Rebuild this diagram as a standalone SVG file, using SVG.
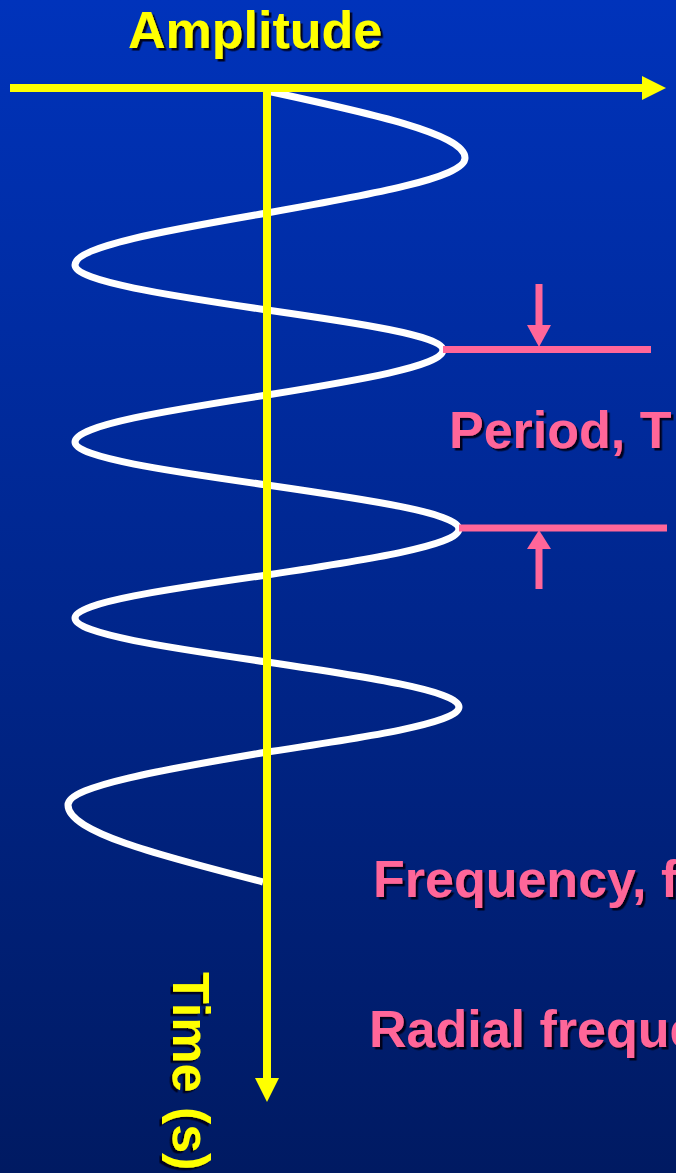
<svg xmlns="http://www.w3.org/2000/svg" width="676" height="1173" viewBox="0 0 676 1173">
  <defs>
    <linearGradient id="bg" x1="0" y1="0" x2="0" y2="1">
      <stop offset="0" stop-color="#0033BB"/>
      <stop offset="1" stop-color="#001A62"/>
    </linearGradient>
    <filter id="shadow" x="-10%" y="-10%" width="130%" height="140%">
      <feDropShadow dx="2.5" dy="2.5" stdDeviation="0.6" flood-color="#000018" flood-opacity="0.95"/>
    </filter>
    <style>
      .lbl { font-family: "Liberation Sans", Arial, sans-serif; font-weight: bold; font-size: 52px; filter: url(#shadow); }
      .yel { fill: #FFFF00; }
      .pink { fill: #FF6699; }
      .yaxis { stroke: #FFFF00; stroke-width: 8; fill: none; }
      .pline { stroke: #FF6699; stroke-width: 7; fill: none; }
      .wave { stroke: #FFFFFF; stroke-width: 7; fill: none; stroke-linecap: butt; stroke-linejoin: round; }
    </style>
  </defs>

  <rect x="0" y="0" width="676" height="1173" fill="url(#bg)"/>

  <g id="wave">
    <path class="wave" d="M267,91 C368.4,112.8 465,133.9 465,158 C465,177.8 368.4,195.1 267,213 C168.6,230 75,246.3 75,265 C75,281.2 168.6,295.3 267,310 C357.2,323 443,335.6 443,350 C443,366.2 357.2,380.3 267,395 C168.6,410.3 75,425.1 75,442 C75,457.5 168.6,471 267,485 C365.4,499.3 459,513.1 459,529 C459,545.6 365.4,560 267,575 C168.6,589 75,602.5 75,618 C75,633.9 168.6,647.7 267,662 C365.4,676.7 459,690.8 459,707 C459,723.2 365.4,737.3 267,752 C165.1,769.3 68,785.9 68,805 C68,832.7 165.1,856.9 263,882"/>
  </g>

  <g id="axes">
    <line class="yaxis" x1="10" y1="88" x2="644" y2="88" stroke-width="7"/>
    <polygon class="yel" points="642,76 666,88 642,100"/>
    <line class="yaxis" x1="267" y1="84" x2="267" y2="1080"/>
    <polygon class="yel" points="255,1078 279,1078 267,1102"/>
  </g>

  <g id="period-markers">
    <line class="pline" x1="443" y1="349.5" x2="651" y2="349.5"/>
    <line class="pline" x1="539" y1="284" x2="539" y2="327"/>
    <polygon class="pink" points="527,325 551,325 539,347"/>
    <line class="pline" x1="459" y1="528" x2="667" y2="528"/>
    <line class="pline" x1="539" y1="546" x2="539" y2="589"/>
    <polygon class="pink" points="527,549 551,549 539,530"/>
  </g>

  <g id="labels">
    <text class="lbl yel" x="128" y="48">Amplitude</text>
    <text class="lbl pink" x="449" y="448">Period, T</text>
    <text class="lbl pink" x="373" y="897">Frequency, f</text>
    <text class="lbl pink" x="369" y="1047">Radial frequency</text>
    <text class="lbl yel" transform="translate(173,972) rotate(90)" x="0" y="0">Time (s)</text>
  </g>
</svg>
